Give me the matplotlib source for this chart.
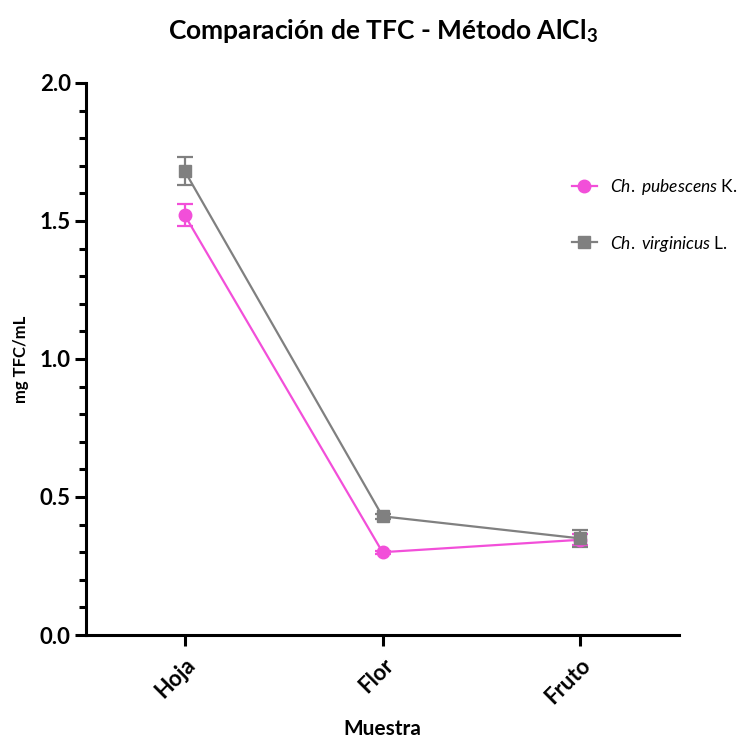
import matplotlib
matplotlib.use('Agg')
import matplotlib.pyplot as plt
from matplotlib.ticker import MultipleLocator
import numpy as np

plt.rcParams['font.family'] = ['Lato', 'DejaVu Sans']
plt.rcParams['mathtext.fontset'] = 'custom'
plt.rcParams['mathtext.rm'] = 'Lato'
plt.rcParams['mathtext.it'] = 'Lato:italic'
plt.rcParams['mathtext.bf'] = 'Lato:bold'

## data
muestras = ['Hoja', 'Flor', 'Fruto']
pub_mean = [1.52, 0.30, 0.345]
pub_err = [0.04, 0.005, 0.02]
vir_mean = [1.68, 0.43, 0.35]
vir_err = [0.05, 0.01, 0.03]

col = {}
col['pub'] = '#F24FD9'
col['vir'] = '#808080'

fig = plt.figure(figsize=(7.5, 7.44), dpi=100)
ax = fig.add_axes([0.1147, 0.1465, 0.7907, 0.742])

x = np.arange(len(muestras))
ax.errorbar(x, pub_mean, yerr=pub_err, fmt='none', ecolor=col['pub'],
            capsize=6, capthick=1.6, elinewidth=1.6)
ax.errorbar(x, vir_mean, yerr=vir_err, fmt='none', ecolor=col['vir'],
            capsize=6, capthick=1.6, elinewidth=1.6)
ax.plot(x, pub_mean, color=col['pub'], marker='o', ms=9, lw=1.6,
        label=r'$\it{Ch.}$ $\it{pubescens}$ K.')
ax.plot(x, vir_mean, color=col['vir'], marker='s', ms=8, lw=1.6,
        label=r'$\it{Ch.}$ $\it{virginicus}$ L.')

ax.set_xlim(-0.5, 2.5)
ax.set_ylim(0, 2.0)
ax.yaxis.set_major_locator(MultipleLocator(0.5))
ax.yaxis.set_minor_locator(MultipleLocator(0.1))
ax.yaxis.set_major_formatter(matplotlib.ticker.FormatStrFormatter('%.1f'))
ax.set_xticks(x)
ax.set_xticklabels(muestras, rotation=45, ha='right', rotation_mode='anchor',
                   fontsize=16, fontweight='bold')
for lab in ax.get_yticklabels():
    lab.set_fontsize(16)
    lab.set_fontweight('bold')

for s in ['top', 'right']:
    ax.spines[s].set_visible(False)
for s in ['left', 'bottom']:
    ax.spines[s].set_linewidth(2.2)
ax.tick_params(which='major', length=8, width=2.2, pad=3)
ax.tick_params(which='minor', length=5, width=2.2)
ax.tick_params(axis='x', pad=6)

ax.set_ylabel('mg TFC/mL', fontsize=12, fontweight='bold', labelpad=8)
ax.set_xlabel('Muestra', fontsize=15, fontweight='bold', labelpad=8)
ax.set_title(r'Comparación de TFC - Método AlCl$_\mathbf{3}$', fontsize=19,
             fontweight='bold', pad=32)

leg = ax.legend(loc='upper left', bbox_to_anchor=(0.763, 0.762),
                bbox_transform=fig.transFigure, frameon=False, fontsize=12.5,
                handlelength=1.4, labelspacing=2.1, handletextpad=0.8,
                borderpad=0, borderaxespad=0)

fig.savefig('out.png', dpi=100)
